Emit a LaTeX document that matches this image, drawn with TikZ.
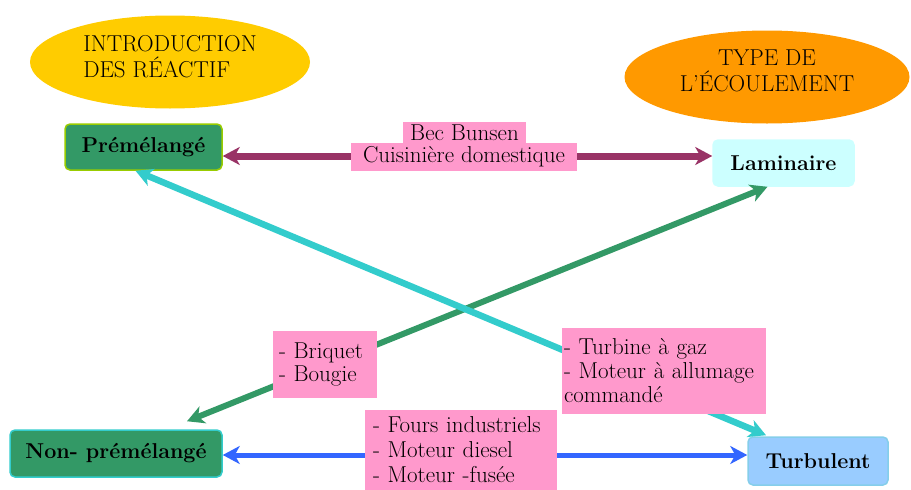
\documentclass[tikz,border=0pt]{standalone}
\usepackage{fontspec}
\usetikzlibrary{shapes.geometric,arrows.meta,calc}
\definecolor{cyel}{HTML}{FFCC00}
\definecolor{corg}{HTML}{FF9900}
\definecolor{cgrn}{HTML}{339966}
\definecolor{clime}{HTML}{99CC00}
\definecolor{clam}{HTML}{CCFFFF}
\definecolor{ctur}{HTML}{99CCFF}
\definecolor{ccyan}{HTML}{33CCCC}
\definecolor{cpink}{HTML}{FF99CC}
\definecolor{cpurp}{HTML}{993366}
\definecolor{cblue}{HTML}{3366FF}
\tikzset{
  bubble/.style={ellipse, inner sep=0pt, minimum width=280pt, minimum height=93pt, text depth=12pt, font=\fontsize{23}{26}\selectfont},
  mainbox/.style={rectangle, rounded corners=5pt, line width=1.5pt, inner sep=0pt, font=\bfseries\fontsize{21.5}{25}\selectfont},
  tag/.style={rectangle, fill=cpink, inner sep=0pt, font=\fontsize{23}{25}\selectfont},
  bitip/.style={{Stealth[length=17pt,width=18pt,inset=5pt]}-{Stealth[length=17pt,width=18pt,inset=5pt]}}
}
\begin{document}
\begin{tikzpicture}[x=1pt,y=-1pt]
\useasboundingbox (0,0) rectangle (911,490);
% ellipses
\node[bubble, fill=cyel, align=left] (intro) at (170,62) {INTRODUCTION\\DES RÉACTIF};
\node[bubble, fill=corg, minimum width=285pt, align=center] (type) at (767,77) {TYPE DE\\L’ÉCOULEMENT};
% main boxes
\node[mainbox, fill=cgrn, draw=clime, minimum width=157pt, minimum height=46pt] (pre) at (143.5,147) {Prémélangé};
\node[mainbox, fill=clam, draw=clam, minimum width=141pt, minimum height=46pt] (lam) at (783.5,163) {Laminaire};
\node[mainbox, fill=cgrn, draw=ccyan, minimum width=212pt, minimum height=47pt] (non) at (116,453.5) {Non- prémélangé};
\node[mainbox, fill=ctur, draw=ccyan!70!cblue!60!white, minimum width=140pt, minimum height=48pt] (tur) at (818,461) {Turbulent};
% connectors
\draw[bitip, cpurp, line width=7pt] ([yshift=-9pt]pre.east) -- ([yshift=7pt]lam.west);
\draw[bitip, cblue, line width=5pt] ([yshift=-1.5pt]non.east) -- ([yshift=6pt]tur.west);
\draw[bitip, cgrn, line width=6pt] ($(non.north)+(71,-8)$) -- ($(lam.south)+(-16,0)$);
\draw[bitip, ccyan, line width=6.5pt] ($(pre.south)+(-8,0)$) -- ($(tur.north)+(-52,-1)$);
% labels
\node[tag, minimum width=123pt, minimum height=21pt] (bec) at (464.5,132.5) {Bec Bunsen};
\node[tag, minimum width=226pt, minimum height=28pt] (cuis) at (464,157) {Cuisinière domestique};
\node[tag, minimum width=104pt, minimum height=67pt, text width=92pt, align=left, font=\fontsize{23}{23}\selectfont] (briq) at (325,364.5) {- Briquet\\- Bougie};
\node[tag, minimum width=204pt, minimum height=86pt, text width=200pt, align=left, font=\fontsize{23}{24}\selectfont] (turb) at (664,371) {- Turbine à gaz\\- Moteur à allumage\\commandé};
\node[tag, minimum width=192pt, minimum height=81pt, text width=176pt, align=left] (fours) at (461,450) {- Fours industriels\\- Moteur diesel\\- Moteur -fusée};
\end{tikzpicture}
\end{document}
